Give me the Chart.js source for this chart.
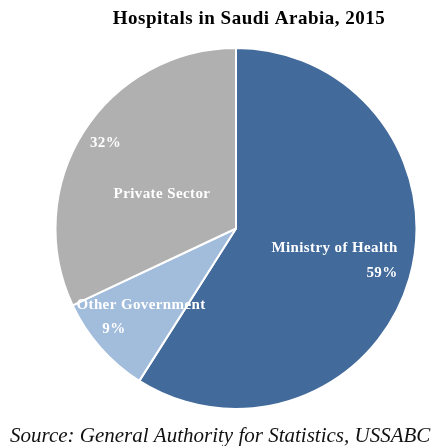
<!DOCTYPE html>
<html>
<head>
<meta charset="utf-8">
<script src="https://cdn.jsdelivr.net/npm/chart.js@4.4.1/dist/chart.umd.min.js"></script>
<style>
html,body{margin:0;padding:0;background:#fff;}
#wrap{width:437px;height:446px;position:relative;}
</style>
</head>
<body>
<div id="wrap"><canvas id="c" width="437" height="446"></canvas></div>
<script>
const chartTitle = 'Hospitals in Saudi Arabia, 2015';
const sourceNote = 'Source: General Authority for Statistics, USSABC';
const categories = ['Ministry of Health', 'Other Government', 'Private Sector'];
const shares = [59, 9, 32];
const sliceColors = ['#426a9b', '#a2bcdc', '#b0b0b0'];

// label placement relative to pie centre, in units of radius: [name dx, name dy, value dx, value dy]
const labelLayout = [
  [0.546, 0.108, 0.809, 0.247],
  [-0.526, 0.424, -0.676, 0.557],
  [-0.410, -0.191, -0.723, -0.474]
];

const textPlugin = {
  id: 'textPlugin',
  afterDraw(chart) {
    const ctx = chart.ctx;
    ctx.save();
    // title
    ctx.fillStyle = '#000';
    ctx.font = 'bold 19px "Liberation Serif", "Times New Roman", serif';
    ctx.letterSpacing = '0.5px';
    ctx.textAlign = 'center';
    ctx.textBaseline = 'middle';
    ctx.fillText(chartTitle, 249, 19);
    // source
    ctx.letterSpacing = '0px';
    ctx.font = 'italic 21px "Liberation Serif", "Times New Roman", serif';
    ctx.fillStyle = '#111';
    ctx.textAlign = 'left';
    ctx.fillText(sourceNote, 10, 436);
    // slice labels
    const meta = chart.getDatasetMeta(0);
    ctx.fillStyle = '#fff';
    ctx.font = 'bold 15px "Liberation Serif", "Times New Roman", serif';
    ctx.letterSpacing = '0.4px';
    ctx.textAlign = 'center';
    meta.data.forEach((arc, i) => {
      const r = arc.outerRadius;
      const L = labelLayout[i];
      ctx.fillText(categories[i], arc.x + L[0] * r, arc.y + L[1] * r);
      ctx.fillText(shares[i] + '%', arc.x + L[2] * r, arc.y + L[3] * r);
    });
    ctx.restore();
  }
};

new Chart(document.getElementById('c'), {
  type: 'pie',
  data: {
    labels: categories,
    datasets: [{
      data: shares,
      backgroundColor: sliceColors,
      borderColor: '#ffffff',
      borderWidth: 2
    }]
  },
  options: {
    responsive: false,
    animation: false,
    layout: { padding: { top: 47, bottom: 36, left: 54, right: 19 } },
    plugins: {
      legend: { display: false },
      title: { display: false },
      tooltip: { enabled: false }
    }
  },
  plugins: [textPlugin]
});
</script>
</body>
</html>
